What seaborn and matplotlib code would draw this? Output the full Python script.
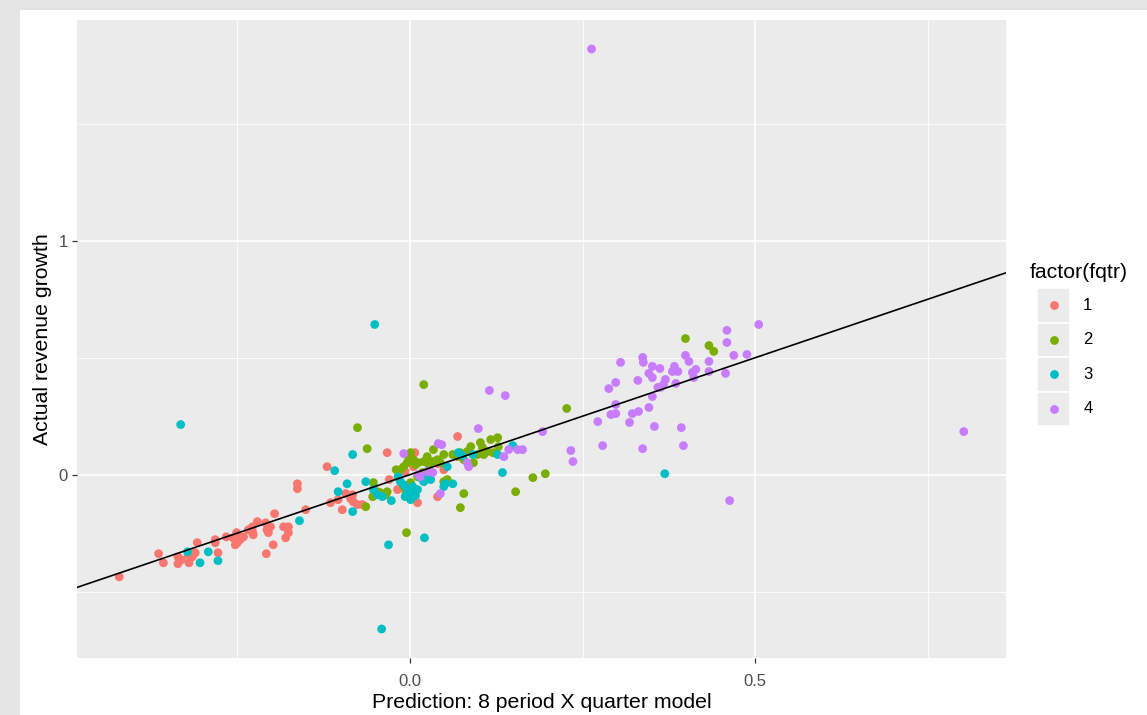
import numpy as np
import pandas as pd
import matplotlib
matplotlib.use("Agg")
import matplotlib.pyplot as plt
from matplotlib.patches import Rectangle
import seaborn as sns

# Predicted vs. actual revenue growth, by fiscal quarter
q1_pred = [-0.421, -0.364, -0.357, -0.336, -0.336, -0.331, -0.321, -0.320, -0.315, -0.311,
           -0.308, -0.282, -0.282, -0.278, -0.266, -0.256, -0.251, -0.250, -0.246, -0.241,
           -0.253, -0.234, -0.228, -0.227, -0.228, -0.221, -0.209, -0.202, -0.207, -0.205,
           -0.196, -0.198, -0.208, -0.183, -0.176, -0.180, -0.176, -0.163, -0.163, -0.151,
           -0.120, -0.033, -0.115, -0.104, -0.098, -0.093, -0.086, -0.082, -0.076, -0.083,
           -0.069, -0.030, -0.018, 0.011, 0.007, 0.069, -0.007, 0.040, 0.049, 0.040, 0.005]
q1_actual = [-0.437, -0.338, -0.377, -0.351, -0.381, -0.364, -0.343, -0.377, -0.351, -0.334,
             -0.291, -0.278, -0.291, -0.334, -0.266, -0.270, -0.248, -0.291, -0.278, -0.266,
             -0.300, -0.236, -0.223, -0.257, -0.244, -0.201, -0.206, -0.223, -0.236, -0.248,
             -0.167, -0.300, -0.338, -0.223, -0.223, -0.270, -0.248, -0.039, -0.060, -0.150,
             0.034, 0.094, -0.120, -0.107, -0.150, -0.081, -0.103, -0.116, -0.128, -0.086,
             -0.128, -0.021, -0.064, -0.120, 0.094, 0.163, 0.013, 0.047, 0.021, -0.094, 0.034]

q2_pred = [0.020, -0.076, -0.062, 0.227, 0.178, 0.196, 0.153, 0.078, 0.073, -0.005,
           0.399, 0.433, 0.440, -0.053, -0.047, -0.054, -0.043, -0.033, -0.064, -0.014,
           -0.009, -0.004, -0.002, 0.001, 0.005, 0.008, 0.012, 0.018, 0.020, 0.025,
           0.027, 0.033, 0.034, 0.040, 0.044, 0.049, 0.049, 0.054, 0.062, 0.069,
           0.073, 0.078, 0.083, 0.088, 0.092, 0.098, 0.102, 0.105, 0.107, 0.112,
           0.117, 0.120, 0.127, 0.128, -0.020, -0.017, -0.009, 0.011, 0.001, -0.006, -0.035]
q2_actual = [0.385, 0.201, 0.111, 0.283, -0.013, 0.004, -0.073, -0.081, -0.141, -0.248,
             0.582, 0.552, 0.527, -0.034, -0.073, -0.094, -0.077, -0.073, -0.137, 0.021,
             0.034, 0.051, 0.077, 0.094, 0.064, 0.043, 0.051, 0.009, 0.056, 0.077,
             0.043, 0.056, 0.107, 0.064, 0.051, 0.086, -0.030, -0.021, 0.086, 0.077,
             0.094, 0.064, 0.099, 0.120, 0.051, 0.086, 0.137, 0.116, 0.086, 0.099,
             0.150, 0.094, 0.158, 0.120, 0.021, -0.009, -0.051, -0.009, -0.034, -0.073, -0.086]

q3_pred = [-0.332, -0.051, -0.041, -0.031, 0.021, 0.369, -0.083, -0.109, -0.104, -0.091,
           -0.083, -0.064, -0.053, -0.047, -0.040, -0.027, -0.322, -0.304, -0.292, -0.278,
           -0.160, -0.017, -0.014, -0.009, -0.004, -0.002, 0.004, -0.007, 0.001, 0.005,
           0.008, 0.011, 0.015, 0.020, 0.025, 0.030, 0.049, 0.051, 0.062, 0.054,
           0.070, 0.076, 0.091, 0.127, 0.149, 0.134]
q3_actual = [0.214, 0.642, -0.660, -0.300, -0.270, 0.004, 0.086, 0.017, -0.073, -0.039,
             -0.158, -0.030, -0.064, -0.086, -0.094, -0.111, -0.330, -0.377, -0.330, -0.368,
             -0.197, -0.009, -0.030, -0.043, -0.064, -0.086, -0.051, -0.094, -0.107, -0.073,
             -0.090, -0.064, -0.013, -0.030, -0.009, -0.021, -0.051, -0.039, -0.039, 0.034,
             0.094, 0.081, 0.086, 0.086, 0.124, 0.009]

q4_pred = [0.263, 0.802, 0.505, 0.459, 0.459, 0.488, 0.469, 0.433, 0.399, 0.404,
           0.337, 0.338, 0.305, 0.351, 0.362, 0.383, 0.380, 0.388, 0.414, 0.409,
           0.411, 0.433, 0.457, 0.346, 0.351, 0.330, 0.298, 0.288, 0.370, 0.367,
           0.363, 0.359, 0.385, 0.351, 0.298, 0.346, 0.331, 0.322, 0.291, 0.298,
           0.272, 0.318, 0.354, 0.393, 0.279, 0.396, 0.337, 0.233, 0.236, 0.463,
           0.115, 0.138, 0.099, 0.192, 0.041, 0.046, 0.143, 0.156, 0.163, 0.136,
           0.083, 0.085, -0.009, 0.012, 0.025, 0.033, 0.015, 0.044]
q4_actual = [1.820, 0.184, 0.642, 0.617, 0.565, 0.514, 0.510, 0.484, 0.510, 0.484,
             0.501, 0.480, 0.480, 0.463, 0.454, 0.463, 0.441, 0.441, 0.450, 0.437,
             0.415, 0.441, 0.433, 0.433, 0.415, 0.403, 0.394, 0.368, 0.407, 0.385,
             0.373, 0.373, 0.390, 0.334, 0.300, 0.287, 0.270, 0.261, 0.257, 0.261,
             0.227, 0.223, 0.206, 0.201, 0.124, 0.124, 0.111, 0.103, 0.056, -0.111,
             0.360, 0.338, 0.197, 0.184, 0.133, 0.128, 0.107, 0.107, 0.107, 0.077,
             0.051, 0.034, 0.090, 0.000, 0.013, 0.009, -0.009, -0.081]

quarters = ["1", "2", "3", "4"]
quarter_colors = ["#F8766D", "#7CAE00", "#00BFC4", "#C77CFF"]

df = pd.concat([
    pd.DataFrame({"pred": p, "actual": a, "fqtr": q})
    for p, a, q in zip([q1_pred, q2_pred, q3_pred, q4_pred],
                       [q1_actual, q2_actual, q3_actual, q4_actual], quarters)
], ignore_index=True)

W, H = 1147, 715
fig = plt.figure(figsize=(W / 100, H / 100), dpi=100)
fig.patch.set_facecolor("#E4E4E4")
fig.add_artist(Rectangle((20 / W, 0), 1, 1 - 10 / H, transform=fig.transFigure,
                         facecolor="white", edgecolor="none", zorder=-1))

ax = fig.add_axes([77 / W, 1 - 658 / H, (1006 - 77) / W, (658 - 20) / H])
ax.set_facecolor("#EBEBEB")
for sp in ax.spines.values():
    sp.set_visible(False)

sns.scatterplot(data=df, x="pred", y="actual", hue="fqtr", hue_order=quarters,
                palette=quarter_colors, s=40, linewidth=0, alpha=1, legend=False,
                ax=ax, zorder=3)

# 45-degree reference line
ax.axline((0, 0), slope=1, color="black", lw=1.2, zorder=4)

# ggplot-style limits: data range expanded by 5% on each side
def expanded(v):
    lo, hi = np.min(v), np.max(v)
    pad = 0.05 * (hi - lo)
    return lo - pad, hi + pad

ax.set_xlim(*expanded(df["pred"]))
ax.set_ylim(*expanded(df["actual"]))

ax.set_xticks([0.0, 0.5])
ax.set_xticklabels(["0.0", "0.5"])
ax.set_yticks([0, 1])
ax.set_yticklabels(["0", "1"])
ax.set_xticks([-0.25, 0.25, 0.75], minor=True)
ax.set_yticks([-0.5, 0.5, 1.5], minor=True)
ax.grid(which="major", color="white", lw=1.2, zorder=0)
ax.grid(which="minor", color="white", lw=0.6, zorder=0)
ax.set_axisbelow(True)
ax.tick_params(which="major", length=3.5, width=0.9, color="#333333",
               labelcolor="#4D4D4D", labelsize=12)
ax.tick_params(axis="x", which="major", pad=8)
ax.tick_params(axis="y", which="major", pad=3)
ax.tick_params(which="minor", length=0)

font = "Liberation Sans"
for lbl in ax.get_xticklabels() + ax.get_yticklabels():
    lbl.set_fontfamily(font)
ax.set_xlabel("Prediction: 8 period X quarter model", fontsize=15.3, family=font,
              color="black", labelpad=3)
ax.set_ylabel("Actual revenue growth", fontsize=15.3, family=font,
              color="black", labelpad=5)

# Legend drawn as its own small panel of keys
lax = fig.add_axes([1037 / W, 1 - 426 / H, 33 / W, 138 / H])
lax.set_xlim(0, 1)
lax.set_ylim(0, len(quarters))
lax.axis("off")
for i, (q, c) in enumerate(zip(quarters, quarter_colors)):
    yb = len(quarters) - 1 - i
    lax.add_patch(Rectangle((0, yb), 1, 1, facecolor="#EBEBEB",
                            edgecolor="white", lw=1.2))
    lax.scatter([0.5], [yb + 0.5], s=40, color=c, linewidths=0, zorder=3)
    lax.text(1.4, yb + 0.5, q, va="center", ha="left", fontsize=12,
             family=font, color="black")
fig.text(1030 / W, 1 - 273 / H, "factor(fqtr)", fontsize=15.3, family=font,
         va="center", ha="left", color="black")

fig.savefig("out.png", dpi=100, facecolor=fig.get_facecolor())
